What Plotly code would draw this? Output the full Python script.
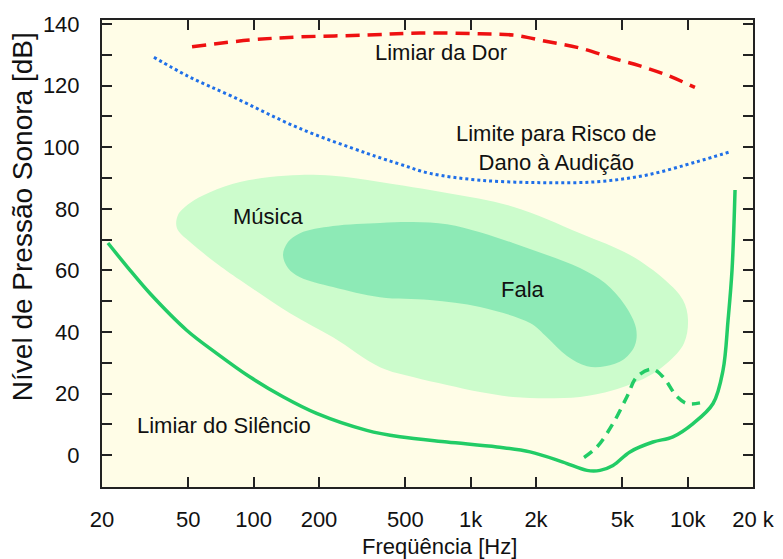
import math
import plotly.graph_objects as go

# ---- data (frequency in Hz, level in dB) ----
dor_f = [52, 96, 163, 333, 584, 1104, 1567, 2248, 3190, 4527, 6030, 8030, 10800]
dor_db = [132.6, 134.8, 135.8, 136.4, 137.1, 136.8, 136.4, 134.3, 132.2, 128.9, 126.4, 123.4, 119.4]

risco_f = [34.7, 50, 80, 163, 333, 472, 650, 1104, 2086, 3820, 6500, 11040, 15670]
risco_db = [129.2, 123, 116.4, 106.1, 98.0, 94.5, 91.5, 89.3, 88.5, 88.8, 91.0, 95.3, 98.5]

silencio_f = [21.3, 26.9, 33.3, 49.1, 67.5, 96.2, 136.5, 195, 332, 472, 778, 1322, 1877, 2663,
              3436, 3945, 4528, 5420, 6920, 8550, 10590, 13090, 14550, 15350, 16010, 16530]
silencio_db = [68.9, 60.1, 52.5, 40.6, 33.1, 25.4, 19.0, 13.6, 8.1, 6.0, 4.3, 2.7, 1.1, -2.2,
               -4.9, -4.9, -3.3, 1.1, 4.3, 6.0, 10.3, 16.8, 27.6, 43.9, 60.1, 86.1]

pico_f = [3329, 3820, 4528, 5250, 5840, 6850, 7690, 8930, 9930, 11400]
pico_db = [-0.7, 2.7, 10.3, 19.0, 25.5, 27.9, 25.5, 19.0, 16.8, 17.0]

musica_f = [163.5, 232, 382, 778, 1567, 3190, 5424, 7863, 9515, 10035, 9616, 8118, 6494, 4528,
            3190, 2247, 1567, 1104, 778, 542, 382, 232, 147, 86.5, 66.3, 50.9, 44.3, 44.8,
            50.9, 62.9, 86.5, 118.9, 163.5]
musica_db = [91.0, 90.7, 88.7, 85.1, 80.7, 72.1, 65.0, 56.9, 50.4, 43.9, 36.4, 30.2, 25.4, 21.1,
             18.9, 18.5, 18.9, 20.5, 22.8, 25.4, 28.6, 38.3, 46.1, 56.9, 62.7, 69.2, 73.7, 78.0,
             81.9, 85.4, 88.7, 90.3, 91.0]

fala_f = [649, 382, 232, 163.5, 143.9, 136.5, 143.9, 163.5, 232, 382, 542, 778, 1104, 1567, 2247,
          3190, 4159, 5140, 5779, 5714, 5087, 4159, 3436, 2779, 2247, 1877, 1104, 649]
fala_db = [50.4, 51.3, 54.6, 57.8, 60.8, 65.0, 69.2, 72.1, 74.4, 75.4, 75.7, 75.0, 72.4, 68.9, 65.0,
           60.8, 55.9, 48.7, 41.3, 35.7, 31.2, 28.9, 28.9, 32.2, 38.3, 42.9, 48.1, 50.4]

tick_vals = [20, 50, 100, 200, 500, 1000, 2000, 5000, 10000, 20000]
tick_text = ["20", "50", "100", "200", "500", "1k", "2k", "5k", "10k", "20 k"]

labels = [
    ("Limiar da Dor", 730, 130.9),
    ("Limite para Risco de<br>Dano à Audição", 2473, 99.7),
    ("Música", 116, 77.6),
    ("Fala", 1742, 53.9),
    ("Limiar do Silêncio", 73, 9.8),
]

FONT = "Liberation Sans, Arial, sans-serif"
GREEN = "#22cc66"
INK = "#111111"

fig = go.Figure()
fig.add_trace(go.Scatter(x=musica_f, y=musica_db, fill="toself", fillcolor="#ccfccc",
                         mode="lines", line=dict(width=0, color="#ccfccc", shape="spline", smoothing=1.0),
                         hoverinfo="skip"))
fig.add_trace(go.Scatter(x=fala_f, y=fala_db, fill="toself", fillcolor="#8deab6",
                         mode="lines", line=dict(width=0, color="#8deab6", shape="spline", smoothing=1.0),
                         hoverinfo="skip"))
fig.add_trace(go.Scatter(x=dor_f, y=dor_db, mode="lines",
                         line=dict(color="#ee1111", width=3.5, dash="14px,8px", shape="spline")))
fig.add_trace(go.Scatter(x=risco_f, y=risco_db, mode="lines",
                         line=dict(color="#1f6fe8", width=3, dash="dot", shape="spline")))
fig.add_trace(go.Scatter(x=silencio_f, y=silencio_db, mode="lines",
                         line=dict(color=GREEN, width=3.5, shape="spline")))
fig.add_trace(go.Scatter(x=pico_f, y=pico_db, mode="lines",
                         line=dict(color=GREEN, width=3.5, dash="10px,7px", shape="spline")))

for txt, fx, fy in labels:
    fig.add_annotation(x=math.log10(fx), y=fy, text=txt, showarrow=False,
                       font=dict(family=FONT, size=22, color=INK))

fig.add_annotation(xref="paper", yref="paper", x=-0.1229, y=0.58, text="Nível de Pressão Sonora [dB]",
                   textangle=-90, showarrow=False, xanchor="center", yanchor="middle",
                   font=dict(family=FONT, size=28, color=INK))
fig.add_annotation(xref="paper", yref="paper", x=0.519, y=-0.128, text="Freqüência [Hz]",
                   showarrow=False, xanchor="center", yanchor="middle",
                   font=dict(family=FONT, size=22, color=INK))

fig.update_layout(
    width=783, height=559,
    margin=dict(l=102, r=30, t=20, b=72),
    paper_bgcolor="white", plot_bgcolor="#fffde7",
    showlegend=False,
    font=dict(family=FONT, size=22, color=INK),
)
fig.update_xaxes(type="log", range=[1.30103, 4.30103], tickvals=tick_vals, ticktext=tick_text,
                 ticks="inside", ticklen=10, tickwidth=1.5, tickcolor="#222222",
                 showline=True, linecolor="#222222", linewidth=2, mirror="ticks",
                 showgrid=False, zeroline=False, ticklabelstandoff=12, automargin=False)
fig.update_yaxes(range=[-10.3, 141.3], tick0=0, dtick=20,
                 ticks="inside", ticklen=10, tickwidth=1.5, tickcolor="#222222",
                 minor=dict(ticks="inside", ticklen=10, tickwidth=1.5, tickcolor="#222222", dtick=10, tick0=0),
                 showline=True, linecolor="#222222", linewidth=2, mirror="ticks",
                 showgrid=False, zeroline=False, ticklabelstandoff=16, automargin=False)

fig.write_html("out.html", config={"displayModeBar": False},
               post_script="document.body.style.margin='0';document.body.style.overflow='hidden';")
